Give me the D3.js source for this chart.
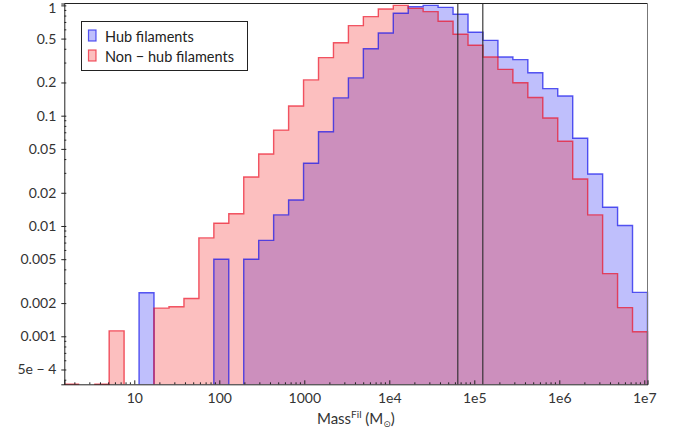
<!DOCTYPE html>
<html>
<head>
<meta charset="utf-8">
<script src="https://cdn.jsdelivr.net/npm/d3@7"></script>
<style>
  html, body { margin: 0; padding: 0; background: #fff; }
  svg { display: block; }
  text { font-family: Lato, "Open Sans", "DejaVu Sans", sans-serif; }
</style>
</head>
<body>
<svg id="chart" width="676" height="435"></svg>
<script>
// ---- data ----
const binEdges = [1.502, 2.251, 3.376, 5.062, 7.591, 11.38, 17.06, 25.59, 38.37, 57.53,
  86.26, 129.3, 193.9, 290.8, 436.0, 653.8, 980.2, 1470, 2204, 3304,
  4955, 7429, 11140, 16700, 25040, 37550, 56300, 84430, 126600, 189800,
  284600, 426800, 639900, 959400, 1439000, 2158000, 3235000, 4851000, 7273000, 10910000];

const hubValues = [0, 0, 0, 0, 0, 0.00248, 0, 0, 0, 0,
  0.005, 0, 0.005, 0.0074, 0.0126, 0.0172, 0.037, 0.0716, 0.145, 0.22,
  0.405, 0.562, 0.848, 0.973, 1.0, 0.96, 0.83, 0.57, 0.482, 0.34,
  0.322, 0.245, 0.176, 0.151, 0.0624, 0.0296, 0.0148, 0.0101, 0.0025];

const nonHubValues = [0.0003, 0, 0.0003, 0.00112, 0, 0, 0.0018, 0.00185, 0.0022, 0.0078,
  0.0106, 0.0129, 0.0278, 0.045, 0.074, 0.1225, 0.211, 0.336, 0.459, 0.655,
  0.79, 0.928, 1.0, 0.94, 0.877, 0.718, 0.547, 0.435, 0.34, 0.263,
  0.199, 0.146, 0.0953, 0.0586, 0.0267, 0.0126, 0.0037, 0.00182, 0.0011];

const markerMasses = [64000, 126000];

const yTickValues = [1, 0.5, 0.2, 0.1, 0.05, 0.02, 0.01, 0.005, 0.002, 0.001, 0.0005];
const yTickLabels = ["1", "0.5", "0.2", "0.1", "0.05", "0.02", "0.01", "0.005", "0.002", "0.001", "5e \u2212 4"];
const xTickValues = [10, 100, 1000, 1e4, 1e5, 1e6, 1e7];
const xTickLabels = ["10", "100", "1000", "1e4", "1e5", "1e6", "1e7"];

const seriesNames = ["Hub filaments", "Non \u2212 hub filaments"];

// ---- layout ----
const svg = d3.select("#chart");
const L = 64.3, R = 647.5, T = 3.5, B = 384.3;

const x = d3.scaleLog().domain([binEdges[0], binEdges[binEdges.length - 1]]).range([L, R]);
const y = d3.scaleLog().domain([3.67e-4, 1.04]).range([B, T]);

const series = [
  { name: seriesNames[0], values: hubValues, fill: "rgba(0,0,245,0.25)", stroke: "rgba(20,20,235,0.7)" },
  { name: seriesNames[1], values: nonHubValues, fill: "rgba(245,0,0,0.25)", stroke: "rgba(235,20,40,0.7)" }
];

function yOf(v) { return y(Math.max(v, y.domain()[0])); }

function stepPath(values, close) {
  let d = "";
  let down = false;
  for (let i = 0; i < values.length; i++) {
    const v = values[i];
    const x0 = x(binEdges[i]), x1 = x(binEdges[i + 1]);
    if (!(v > 0)) {
      if (down) { d += `L${x0},${B}` + (close ? "Z" : ""); down = false; }
      continue;
    }
    const yy = yOf(v);
    if (!down) { d += `M${x0},${B}L${x0},${yy}`; down = true; }
    else d += `L${x0},${yy}`;
    d += `L${x1},${yy}`;
  }
  if (down) d += `L${x(binEdges[values.length])},${B}` + (close ? "Z" : "");
  return d;
}

const plot = svg.append("g");
series.forEach(s => {
  plot.append("path").attr("d", stepPath(s.values, true)).attr("fill", s.fill).attr("stroke", "none");
});
series.forEach(s => {
  plot.append("path").attr("d", stepPath(s.values, false)).attr("fill", "none")
    .attr("stroke", s.stroke).attr("stroke-width", 1.4);
});

// marker lines
plot.selectAll("line.marker").data(markerMasses).enter().append("line")
  .attr("x1", d => x(d)).attr("x2", d => x(d)).attr("y1", T).attr("y2", B)
  .attr("stroke", "#2a2a2a").attr("stroke-width", 1.1);

// frame
svg.append("line").attr("x1", L).attr("x2", R).attr("y1", T).attr("y2", T).attr("stroke", "#222").attr("stroke-width", 1);
svg.append("line").attr("x1", R).attr("x2", R).attr("y1", T).attr("y2", B).attr("stroke", "#777").attr("stroke-width", 1);

// y axis
const yAxis = d3.axisLeft(y).tickValues(yTickValues).tickFormat((d, i) => yTickLabels[i]).tickSize(3).tickPadding(5);
const gy = svg.append("g").attr("transform", `translate(${L},0)`).call(yAxis);
gy.select(".domain").attr("stroke", "#222");
gy.selectAll(".tick line").attr("stroke", "#222").attr("x2", -3).attr("x1", 2);
gy.selectAll(".tick text").attr("font-size", 14).attr("fill", "#333").attr("font-family", "Lato, sans-serif");
gy.selectAll(".tick text").filter(d => d === 1).attr("y", 2.5);
// minor y ticks
const yMinor = [];
for (let e = -4; e <= 0; e++) for (let m = 1; m <= 9; m++) {
  const v = m * Math.pow(10, e);
  if (v >= y.domain()[0] && v <= y.domain()[1] && !yTickValues.some(t => Math.abs(t - v) / v < 1e-6)) yMinor.push(v);
}
svg.append("g").selectAll("line").data(yMinor).enter().append("line")
  .attr("x1", L).attr("x2", L + 2).attr("y1", d => y(d)).attr("y2", d => y(d))
  .attr("stroke", "#222").attr("stroke-width", 1);

// x axis
const xAxis = d3.axisBottom(x).tickValues(xTickValues).tickFormat((d, i) => xTickLabels[i]).tickSize(-4).tickPadding(9);
const gx = svg.append("g").attr("transform", `translate(0,${B})`).call(xAxis);
gx.select(".domain").attr("stroke", "#222");
gx.selectAll(".tick line").attr("stroke", "#222");
gx.selectAll(".tick text").attr("font-size", 14).attr("fill", "#333").attr("font-family", "Lato, sans-serif");
const xMinor = [];
for (let e = 0; e <= 7; e++) for (let m = 2; m <= 9; m++) {
  const v = m * Math.pow(10, e);
  if (v >= x.domain()[0] && v <= x.domain()[1]) xMinor.push(v);
}
svg.append("g").selectAll("line").data(xMinor).enter().append("line")
  .attr("x1", d => x(d)).attr("x2", d => x(d)).attr("y1", B).attr("y2", B - 2)
  .attr("stroke", "#222").attr("stroke-width", 1);

// x axis title
const title = svg.append("text").attr("x", (L + R) / 2).attr("y", 423.5).attr("text-anchor", "middle")
  .attr("font-size", 15).attr("fill", "#333");
title.append("tspan").text("Mass");
title.append("tspan").attr("font-size", 10).attr("dy", -6).text("Fil");
title.append("tspan").attr("dy", 6).text(" (M");
title.append("tspan").attr("font-size", 9).attr("dy", 3).attr("font-family", "DejaVu Sans").text("\u2299");
title.append("tspan").attr("dy", -3).text(")");

// legend
const lg = svg.append("g");
lg.append("rect").attr("x", 81.5).attr("y", 21.5).attr("width", 166).attr("height", 49)
  .attr("fill", "#fff").attr("stroke", "#222").attr("stroke-width", 1);
series.forEach((s, i) => {
  const yy = 30 + i * 20;
  lg.append("rect").attr("x", 88.5).attr("y", yy).attr("width", 7.5).attr("height", 11)
    .attr("fill", s.fill).attr("stroke", s.stroke).attr("stroke-width", 1.2);
  lg.append("text").attr("x", 105).attr("y", yy + 11.5).attr("font-size", 14.5).attr("fill", "#222").text(s.name);
});
</script>
</body>
</html>
